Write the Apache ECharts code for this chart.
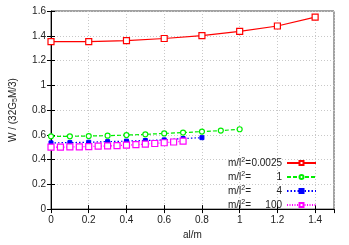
<!DOCTYPE html>
<html><head><meta charset="utf-8">
<script src="https://cdn.jsdelivr.net/npm/echarts@6/dist/echarts.min.js"></script>
<style>html,body{margin:0;padding:0;background:#fff}#c{width:349px;height:245px}</style>
</head><body><div id="c"></div>
<script>
var legendValues = ['0.0025', '1', '4', '100'];
var redX = [0, 0.2, 0.4, 0.6, 0.8, 1.0, 1.2, 1.4];
var redY = [1.352, 1.352, 1.360, 1.378, 1.401, 1.435, 1.479, 1.550];
var greenX = [0, 0.1, 0.2, 0.3, 0.4, 0.5, 0.6, 0.7, 0.8, 0.9, 1.0];
var greenY = [0.588, 0.588, 0.590, 0.593, 0.598, 0.604, 0.611, 0.618, 0.626, 0.634, 0.645];
var blueX = [0, 0.1, 0.2, 0.3, 0.4, 0.5, 0.6, 0.7, 0.8];
var blueY = [0.535, 0.537, 0.540, 0.545, 0.549, 0.554, 0.559, 0.570, 0.577];
var magX = [0, 0.05, 0.1, 0.15, 0.2, 0.25, 0.3, 0.35, 0.4, 0.45, 0.5, 0.55, 0.6, 0.65, 0.7];
var magY = [0.500, 0.500, 0.502, 0.503, 0.505, 0.508, 0.510, 0.513, 0.516, 0.520, 0.525, 0.530, 0.536, 0.542, 0.549];

function pairs(xs, ys){ return xs.map(function(x,i){ return [x, ys[i]]; }); }
var names = legendValues.map(function(v){ return 'm/l2=' + v; });
var font = 'Liberation Sans, Arial, sans-serif';
var fs = 10;

var chart = echarts.init(document.getElementById('c'), null, {renderer:'canvas'});
var gridLine = {show:true, lineStyle:{color:'#c8c8c8', type:[1,2], width:1}};
chart.setOption({
  animation:false,
  textStyle:{fontFamily:font},
  grid:{left:49, right:15, top:11, bottom:29, show:true, borderColor:'#444', borderWidth:1},
  legend:{
    orient:'vertical', right:27, bottom:30, align:'right',
    itemWidth:29, itemHeight:5, itemGap:3,
    textStyle:{fontFamily:font, fontSize:fs, color:'#222',
      rich:{
        t:{fontSize:fs, color:'#222', fontFamily:font},
        s:{fontSize:7, color:'#222', verticalAlign:'top', padding:[0,0,5,0], fontFamily:font},
        v:{fontSize:fs, color:'#222', width:31, align:'right', fontFamily:font}
      }},
    formatter:function(n){ var v = n.split('=')[1]; return '{t|m/l}{s|2}{t|=}{v|' + v + '}'; },
    data:names
  },
  xAxis:[{
    type:'value', min:0, max:1.5, interval:0.2,
    name:'al/m', nameLocation:'middle', nameGap:19,
    nameTextStyle:{fontSize:fs, color:'#222', fontFamily:font},
    axisLine:{show:true, lineStyle:{color:'#000', width:1}},
    axisTick:{show:true, inside:true, length:4, lineStyle:{color:'#000'}},
    axisLabel:{color:'#222', fontSize:fs, margin:6, showMaxLabel:false, fontFamily:font},
    splitLine:gridLine
  },{
    type:'value', min:0, max:1.5, interval:0.2, position:'top',
    axisLine:{show:false}, axisTick:{show:true, inside:true, length:4, lineStyle:{color:'#000'}},
    axisLabel:{show:false}, splitLine:{show:false}
  }],
  yAxis:[{
    type:'value', min:0, max:1.6, interval:0.2,
    name:'{t|W / (32G}{s|5}{t|M/3)}', nameLocation:'middle', nameGap:32, nameRotate:90,
    nameTextStyle:{fontSize:fs, color:'#222', fontFamily:font,
      rich:{t:{fontSize:fs, color:'#222', fontFamily:font}, s:{fontSize:7, color:'#222', verticalAlign:'bottom', padding:[5,0,0,0], fontFamily:font}}},
    axisLine:{show:true, lineStyle:{color:'#000', width:1}},
    axisTick:{show:true, inside:true, length:4, lineStyle:{color:'#000'}},
    axisLabel:{color:'#222', fontSize:fs, margin:5, fontFamily:font},
    splitLine:gridLine
  },{
    type:'value', min:0, max:1.6, interval:0.2, position:'right',
    axisLine:{show:false}, axisTick:{show:true, inside:true, length:4, lineStyle:{color:'#000'}},
    axisLabel:{show:false}, splitLine:{show:false}
  }],
  series:[
    {name:names[0], type:'line', data:pairs(redX, redY), symbol:'rect', symbolSize:6,
     itemStyle:{color:'#fff', borderColor:'#ff0000', borderWidth:1.2},
     lineStyle:{color:'#ff0000', width:1.2}, color:'#ff0000'},
    {name:names[1], type:'line', data:pairs(greenX, greenY), symbol:'circle', symbolSize:5,
     itemStyle:{color:'#fff', borderColor:'#00ee00', borderWidth:1.2},
     lineStyle:{color:'#00ee00', width:1.2, type:[4,2]}, color:'#00ee00'},
    {name:names[2], type:'line', data:pairs(blueX, blueY), symbol:'rect', symbolSize:4,
     itemStyle:{color:'#0000ff', borderColor:'#0000ff', borderWidth:1},
     lineStyle:{color:'#0000ff', width:1.2, type:[1.5,2]}, color:'#0000ff'},
    {name:names[3], type:'line', data:pairs(magX, magY), symbol:'rect', symbolSize:6,
     itemStyle:{color:'#fff', borderColor:'#ff00ff', borderWidth:1.2},
     lineStyle:{color:'#ff00ff', width:1.2, type:[1,1.5]}, color:'#ff00ff'}
  ]
});
</script></body></html>
